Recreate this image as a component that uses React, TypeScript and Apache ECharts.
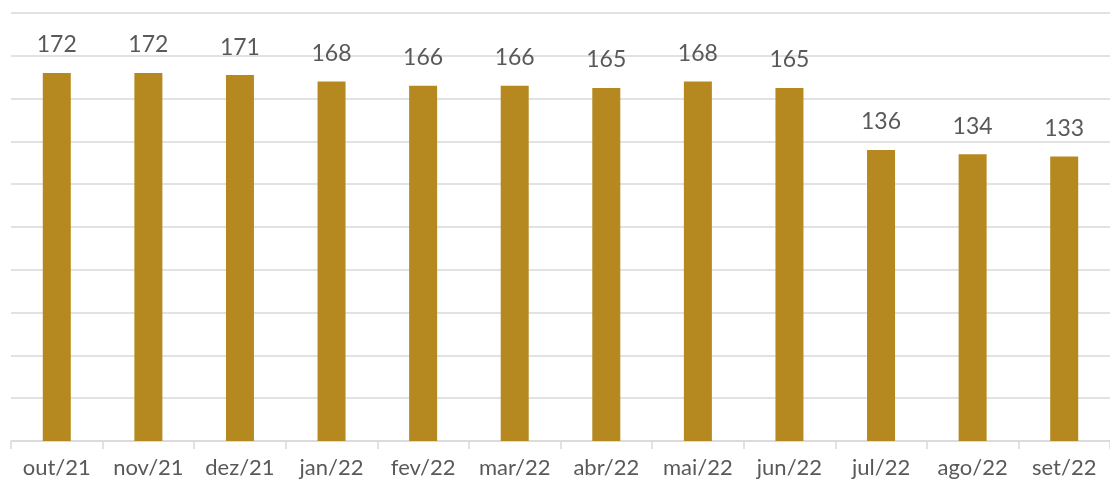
import React, { useEffect, useRef } from "react";
import * as echarts from "echarts";

const categories = ["out/21", "nov/21", "dez/21", "jan/22", "fev/22", "mar/22", "abr/22", "mai/22", "jun/22", "jul/22", "ago/22", "set/22"];
const values = [172, 172, 171, 168, 166, 166, 165, 168, 165, 136, 134, 133];

export default function App() {
  const ref = useRef<HTMLDivElement>(null);
  useEffect(() => {
    if (!ref.current) return;
    const chart = echarts.init(ref.current, undefined, { renderer: "svg" });
    chart.setOption({
      animation: false,
      grid: { left: 11, right: -1, top: 13, bottom: 42, containLabel: false },
      xAxis: {
        type: "category",
        data: categories,
        axisLine: { show: true, lineStyle: { color: "#d9d9d9", width: 1.5 } },
        axisTick: { show: true, length: 8, lineStyle: { color: "#d9d9d9", width: 1.5 } },
        axisLabel: { color: "#595959", fontSize: 22, fontFamily: "Lato", margin: 14, interval: 0 },
      },
      yAxis: {
        type: "value",
        min: 0,
        max: 200,
        interval: 20,
        axisLabel: { show: false },
        axisLine: { show: false },
        axisTick: { show: false },
        splitLine: { show: true, lineStyle: { color: "#d9d9d9", width: 1.5 } },
      },
      series: [
        {
          type: "bar",
          data: values,
          barWidth: 28,
          itemStyle: { color: "#B5891F" },
          label: { show: true, position: "top", distance: 18, color: "#595959", fontSize: 23, fontFamily: "Lato" },
        },
      ],
    });
    return () => chart.dispose();
  }, []);
  return <div ref={ref} style={{ position: "fixed", left: 0, top: 0, width: 1110, height: 483 }} />;
}
